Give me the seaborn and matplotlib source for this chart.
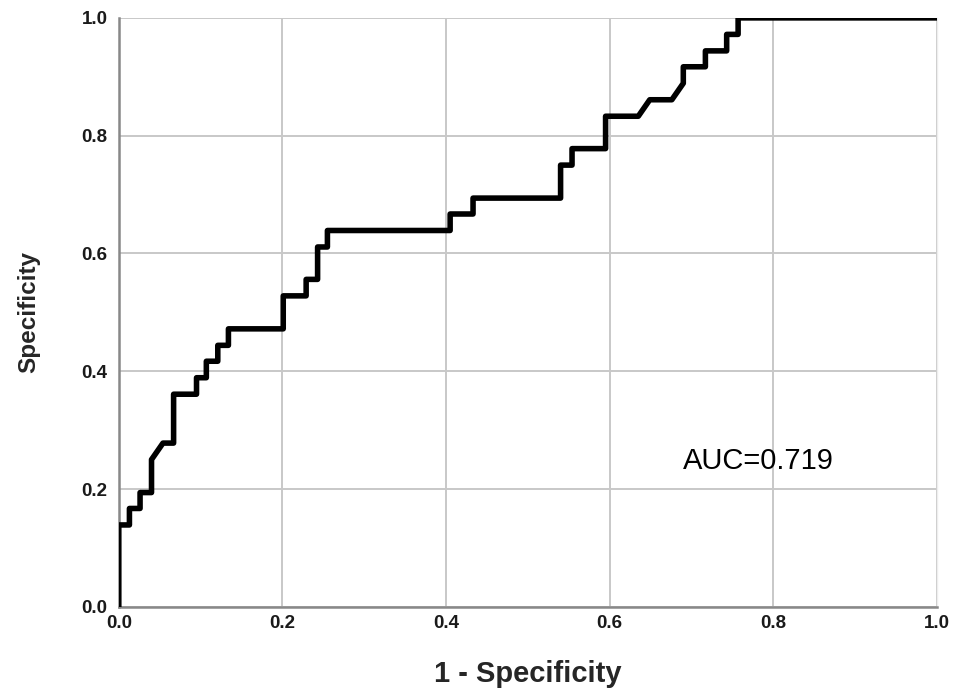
import pandas as pd
import seaborn as sns
import matplotlib.pyplot as plt

# ROC curve vertices (1 - specificity, specificity)
fpr = [0.0, 0.0, 0.013, 0.013, 0.026, 0.026, 0.040, 0.040, 0.054, 0.067,
       0.067, 0.095, 0.095, 0.107, 0.107, 0.121, 0.121, 0.134, 0.134, 0.201,
       0.201, 0.229, 0.229, 0.243, 0.243, 0.255, 0.255, 0.405, 0.405, 0.433,
       0.433, 0.540, 0.540, 0.554, 0.554, 0.595, 0.595, 0.635, 0.649, 0.676,
       0.690, 0.690, 0.717, 0.717, 0.743, 0.743, 0.757, 0.757, 1.0]
tpr = [0.0, 0.139, 0.139, 0.167, 0.167, 0.194, 0.194, 0.250, 0.278, 0.278,
       0.361, 0.361, 0.389, 0.389, 0.417, 0.417, 0.444, 0.444, 0.472, 0.472,
       0.528, 0.528, 0.556, 0.556, 0.611, 0.611, 0.639, 0.639, 0.667, 0.667,
       0.694, 0.694, 0.750, 0.750, 0.778, 0.778, 0.833, 0.833, 0.861, 0.861,
       0.889, 0.917, 0.917, 0.944, 0.944, 0.972, 0.972, 1.0, 1.0]
ticks = [0.0, 0.2, 0.4, 0.6, 0.8, 1.0]
tick_labels = ["0.0", "0.2", "0.4", "0.6", "0.8", "1.0"]
auc_text = "AUC=0.719"

df = pd.DataFrame({"fpr": fpr, "tpr": tpr})

sns.set_theme(style="whitegrid")
plt.rcParams["font.family"] = ["Liberation Sans", "DejaVu Sans"]

fig = plt.figure(figsize=(9.58, 6.88), dpi=100)
ax = fig.add_axes([0.124, 0.118, 0.854, 0.856])

sns.lineplot(data=df, x="fpr", y="tpr", sort=False, estimator=None,
             color="black", linewidth=4.0, ax=ax, zorder=3)

ax.set_xlim(0, 1)
ax.set_ylim(0, 1)
ax.set_xticks(ticks)
ax.set_yticks(ticks)
ax.set_xticklabels(tick_labels, fontsize=13.5, fontweight="bold", color="#1a1a1a")
ax.set_yticklabels(tick_labels, fontsize=13.5, fontweight="bold", color="#1a1a1a")
ax.tick_params(axis="x", length=0, pad=6)
ax.tick_params(axis="y", length=0, pad=8)

ax.grid(True, color="#c8c8c8", linewidth=1.4)
ax.set_facecolor("white")
for side in ["left", "bottom"]:
    ax.spines[side].set_color("#888888")
    ax.spines[side].set_linewidth(1.8)
ax.spines["top"].set_visible(False)
ax.spines["right"].set_color("#eeeeee")
ax.spines["right"].set_linewidth(1.0)

ax.set_xlabel("1 - Specificity", fontsize=21, fontweight="bold", labelpad=20)
ax.set_ylabel("Specificity", fontsize=17.5, fontweight="bold", labelpad=30)

ax.text(0.69, 0.247, auc_text, fontsize=21, va="center", ha="left", color="black")

fig.savefig("out.png", dpi=100)
